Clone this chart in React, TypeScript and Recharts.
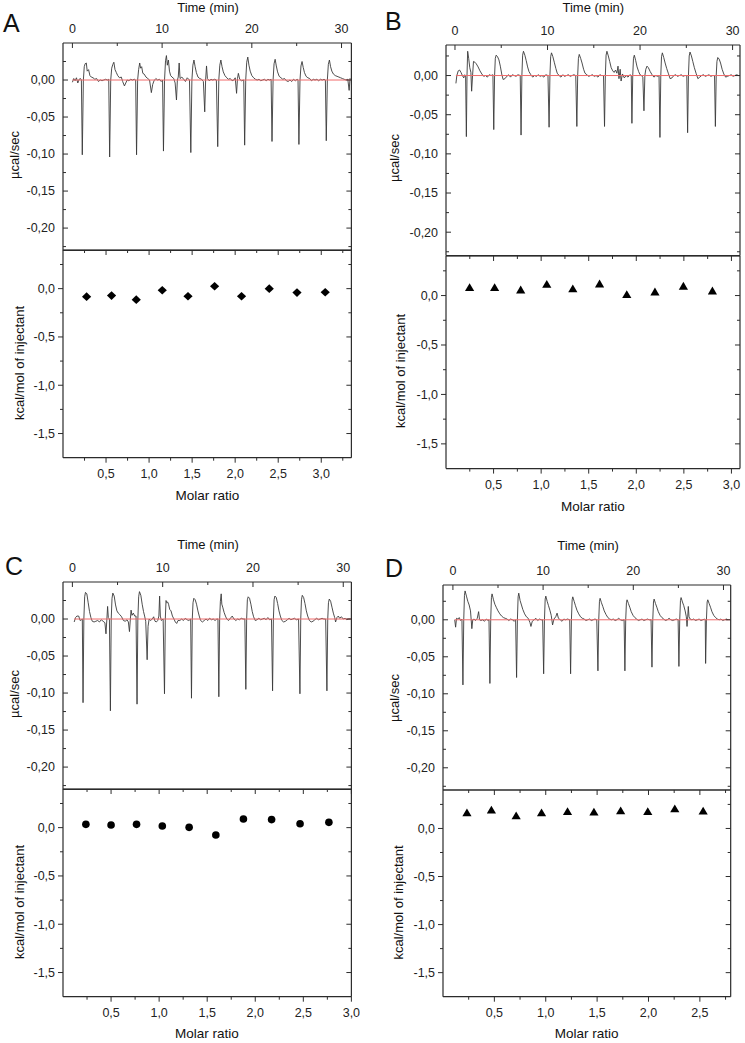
import React from 'react';
import { LineChart, Line, ScatterChart, Scatter, XAxis, YAxis, ReferenceLine } from 'recharts';

type Pt = [number, number];

// ---------- raw thermograms (time min, µcal/sec) ----------
const traceA: Pt[] = [
  [0.0,-0.003],[0.15,0.002],[0.3,-0.001],[0.45,0.003],[0.6,-0.004],[0.75,0.001],[0.9,0.002],[1.0,0.0],
  [1.1,-0.101],[1.22,0.0],[1.32,0.018],[1.42,0.022],[1.55,0.023],[1.65,0.012],[1.8,0.014],[1.95,0.006],[2.1,0.004],[2.3,0.003],[2.5,0.001],[2.7,0.002],[2.9,-0.002],[3.1,0.0],[3.3,-0.001],[3.5,0.0],[3.7,0.001],[3.9,0.0],[4.05,0.001],
  [4.15,-0.104],[4.27,0.0],[4.38,0.016],[4.5,0.021],[4.62,0.024],[4.75,0.014],[4.9,0.010],[5.05,0.006],[5.25,0.003],[5.45,0.004],[5.6,-0.002],[5.8,-0.008],[5.95,-0.004],[6.1,0.0],[6.3,-0.001],[6.5,0.001],[6.7,0.0],[6.9,0.001],[7.05,0.0],
  [7.15,-0.101],[7.27,0.0],[7.38,0.014],[7.5,0.023],[7.6,0.016],[7.72,0.018],[7.85,0.009],[8.0,0.008],[8.2,0.004],[8.4,0.002],[8.6,0.0],[8.8,-0.017],[8.95,-0.006],[9.1,-0.001],[9.3,0.002],[9.5,0.0],[9.7,0.001],[9.9,-0.002],[10.05,0.0],
  [10.15,-0.096],[10.27,0.0],[10.38,0.026],[10.48,0.033],[10.58,0.02],[10.7,0.027],[10.82,0.012],[10.95,0.006],[11.1,0.004],[11.3,0.002],[11.45,-0.004],[11.6,-0.027],[11.7,0.0],[11.8,0.004],[11.9,0.023],[12.0,0.002],[12.2,0.004],[12.4,0.001],[12.6,-0.002],[12.8,0.003],[13.05,0.0],
  [13.2,-0.098],[13.32,0.0],[13.43,0.020],[13.55,0.027],[13.68,0.018],[13.82,0.010],[14.0,0.004],[14.2,0.002],[14.4,0.001],[14.6,-0.002],[14.75,-0.043],[14.85,0.0],[14.95,0.019],[15.05,0.002],[15.25,-0.001],[15.45,0.001],[15.65,0.0],[15.85,0.001],[16.05,0.0],
  [16.2,-0.090],[16.32,0.0],[16.43,0.020],[16.55,0.027],[16.68,0.018],[16.82,0.011],[17.0,0.006],[17.2,0.003],[17.4,0.001],[17.6,0.002],[17.8,-0.001],[18.0,0.0],[18.15,0.003],[18.3,-0.018],[18.4,0.002],[18.5,0.009],[18.65,0.001],[18.85,-0.001],[19.1,0.0],
  [19.2,-0.088],[19.32,0.0],[19.43,0.024],[19.55,0.031],[19.68,0.02],[19.82,0.012],[20.0,0.006],[20.2,0.003],[20.4,0.001],[20.6,0.0],[20.8,0.001],[21.0,-0.001],[21.2,0.0],[21.4,0.001],[21.6,-0.001],[21.8,0.001],[22.0,0.0],[22.15,0.001],
  [22.25,-0.083],[22.37,0.0],[22.48,0.022],[22.6,0.028],[22.73,0.019],[22.87,0.011],[23.05,0.005],[23.25,0.003],[23.45,0.001],[23.65,0.002],[23.85,-0.001],[24.05,-0.002],[24.25,0.0],[24.45,-0.002],[24.65,0.001],[24.85,-0.001],[25.05,0.001],[25.15,0.0],
  [25.25,-0.087],[25.37,0.0],[25.48,0.019],[25.6,0.025],[25.73,0.017],[25.87,0.010],[26.05,0.005],[26.25,0.003],[26.45,0.002],[26.65,-0.001],[26.85,0.001],[27.05,0.0],[27.25,0.001],[27.45,-0.001],[27.65,0.001],[27.85,0.0],[28.05,0.001],[28.2,0.0],
  [28.3,-0.082],[28.42,0.0],[28.53,0.021],[28.65,0.027],[28.78,0.018],[28.92,0.012],[29.1,0.008],[29.3,0.006],[29.5,0.005],[29.7,0.004],[29.9,0.003],[30.1,0.002],[30.3,0.001],[30.5,0.0],[30.7,0.001],[30.85,-0.014],[30.95,0.002],[31.0,0.001],
];

const traceB: Pt[] = [
  [0.1,-0.010],[0.2,0.0],[0.35,0.006],[0.5,0.007],[0.65,0.004],[0.8,0.0],[0.95,-0.003],[1.05,0.001],[1.15,-0.002],
  [1.23,-0.078],[1.3,0.0],[1.37,0.031],[1.48,0.022],[1.6,0.010],[1.72,0.004],[1.8,-0.020],[1.9,0.0],[2.0,0.018],[2.15,0.017],[2.3,0.015],[2.5,0.011],[2.7,0.006],[2.9,0.002],[3.1,-0.001],[3.3,0.0],[3.5,-0.002],[3.7,0.001],[3.9,0.0],[4.1,0.001],
  [4.19,-0.069],[4.28,0.0],[4.36,0.022],[4.45,0.026],[4.6,0.024],[4.75,0.020],[4.9,0.012],[5.05,0.002],[5.2,-0.005],[5.4,-0.004],[5.6,-0.001],[5.8,0.001],[6.0,-0.002],[6.2,0.001],[6.4,0.0],[6.6,-0.001],[6.8,0.001],[7.05,0.0],
  [7.14,-0.076],[7.23,0.0],[7.31,0.026],[7.4,0.031],[7.55,0.026],[7.7,0.019],[7.85,0.011],[8.0,0.005],[8.2,0.001],[8.4,-0.002],[8.6,0.0],[8.8,-0.001],[9.0,0.001],[9.2,-0.001],[9.4,0.0],[9.6,-0.002],[9.8,0.001],[10.05,0.0],
  [10.17,-0.066],[10.26,0.0],[10.34,0.024],[10.43,0.029],[10.58,0.024],[10.73,0.017],[10.9,0.009],[11.05,0.003],[11.25,0.0],[11.45,-0.002],[11.65,0.001],[11.85,-0.001],[12.05,0.0],[12.25,0.001],[12.45,-0.001],[12.65,0.0],[12.85,0.001],[13.05,0.0],
  [13.17,-0.065],[13.26,0.0],[13.34,0.022],[13.43,0.027],[13.58,0.022],[13.73,0.016],[13.9,0.008],[14.05,0.003],[14.25,0.001],[14.45,-0.001],[14.65,0.0],[14.85,0.001],[15.05,-0.001],[15.25,0.0],[15.45,-0.002],[15.65,0.001],[15.85,0.0],[16.05,0.0],
  [16.16,-0.065],[16.25,0.0],[16.33,0.026],[16.42,0.031],[16.57,0.025],[16.72,0.018],[16.88,0.010],[17.05,0.006],[17.2,0.004],[17.35,0.007],[17.5,0.003],[17.62,0.012],[17.72,-0.004],[17.85,0.008],[17.95,-0.007],[18.1,0.002],[18.3,-0.003],[18.5,0.0],[18.7,-0.002],[18.9,0.001],[19.05,0.0],
  [19.12,-0.061],[19.21,0.0],[19.29,0.022],[19.38,0.026],[19.53,0.019],[19.68,0.011],[19.85,0.005],[20.0,0.001],[20.15,0.0],[20.3,-0.002],[20.42,-0.045],[20.52,0.0],[20.62,0.008],[20.75,0.012],[20.9,0.010],[21.1,0.005],[21.3,0.001],[21.5,-0.002],[21.7,0.0],[21.9,-0.001],[22.05,0.0],
  [22.15,-0.079],[22.24,0.0],[22.32,0.024],[22.41,0.029],[22.56,0.023],[22.71,0.016],[22.88,0.009],[23.05,0.003],[23.25,-0.004],[23.45,-0.003],[23.65,0.0],[23.85,0.001],[24.05,-0.001],[24.25,0.0],[24.45,0.001],[24.65,-0.001],[24.85,0.0],[25.05,0.0],
  [25.14,-0.073],[25.23,0.0],[25.31,0.025],[25.4,0.030],[25.55,0.025],[25.7,0.018],[25.87,0.010],[26.05,0.003],[26.25,-0.004],[26.45,-0.002],[26.65,0.0],[26.85,0.001],[27.05,-0.001],[27.25,0.0],[27.45,0.001],[27.65,-0.001],[27.85,0.0],[28.05,0.0],
  [28.14,-0.065],[28.23,0.0],[28.31,0.018],[28.4,0.023],[28.55,0.021],[28.7,0.016],[28.87,0.008],[29.05,0.002],[29.25,-0.002],[29.45,-0.001],[29.65,0.0],[29.85,0.001],[30.05,-0.001],[30.25,0.0],[30.45,0.001],[30.65,0.0],[30.8,0.0],
];

const traceC: Pt[] = [
  [0.2,-0.004],[0.35,0.002],[0.5,0.004],[0.7,0.004],[0.85,-0.002],[1.0,-0.001],[1.1,0.0],
  [1.18,-0.113],[1.27,0.0],[1.36,0.030],[1.45,0.036],[1.6,0.034],[1.75,0.022],[1.9,0.010],[2.05,0.002],[2.2,-0.003],[2.4,-0.004],[2.6,-0.003],[2.8,-0.002],[3.0,-0.004],[3.2,-0.001],[3.4,-0.003],[3.6,-0.005],[3.72,-0.020],[3.82,0.0],[3.9,0.017],[3.98,0.002],[4.1,0.0],
  [4.21,-0.124],[4.3,0.0],[4.39,0.028],[4.48,0.035],[4.63,0.031],[4.78,0.019],[4.93,0.011],[5.08,0.008],[5.25,0.006],[5.45,0.003],[5.65,-0.002],[5.85,-0.003],[6.05,-0.001],[6.2,-0.004],[6.32,-0.017],[6.42,0.0],[6.5,0.012],[6.6,0.005],[6.75,0.008],[6.9,0.004],[7.05,0.004],
  [7.16,-0.115],[7.25,0.0],[7.34,0.030],[7.43,0.037],[7.58,0.032],[7.73,0.020],[7.88,0.010],[8.0,0.004],[8.12,-0.003],[8.28,-0.055],[8.38,-0.010],[8.5,0.0],[8.65,-0.002],[8.85,0.0],[9.0,0.003],[9.15,-0.003],[9.3,-0.004],[9.45,-0.002],[9.58,0.004],[9.66,0.031],[9.74,0.004],[9.85,-0.002],[10.05,0.0],
  [10.2,-0.101],[10.29,0.0],[10.37,0.025],[10.45,0.022],[10.55,0.023],[10.65,0.020],[10.78,0.013],[10.92,0.011],[11.08,0.004],[11.25,0.0],[11.4,-0.004],[11.55,-0.006],[11.7,-0.002],[11.9,-0.002],[12.1,0.0],[12.3,-0.002],[12.5,0.001],[12.7,-0.001],[12.9,-0.002],[13.1,0.0],
  [13.19,-0.107],[13.28,0.0],[13.36,0.022],[13.45,0.028],[13.6,0.026],[13.75,0.020],[13.9,0.011],[14.05,0.004],[14.2,-0.002],[14.4,-0.004],[14.6,-0.002],[14.8,0.0],[15.0,-0.002],[15.2,0.001],[15.4,-0.001],[15.6,0.0],[15.8,-0.002],[16.0,0.0],[16.12,0.0],
  [16.22,-0.105],[16.31,0.0],[16.39,0.024],[16.48,0.034],[16.55,0.020],[16.65,0.016],[16.8,0.009],[16.95,0.004],[17.1,0.0],[17.3,-0.002],[17.5,0.001],[17.7,0.004],[17.9,0.0],[18.1,-0.002],[18.3,0.0],[18.5,-0.001],[18.7,0.001],[18.9,0.0],[19.1,0.0],
  [19.21,-0.095],[19.3,0.0],[19.38,0.026],[19.47,0.030],[19.62,0.028],[19.77,0.020],[19.92,0.010],[20.07,0.003],[20.25,-0.002],[20.45,-0.001],[20.65,0.001],[20.85,-0.001],[21.05,0.0],[21.25,0.001],[21.45,-0.001],[21.65,0.002],[21.85,-0.001],[22.05,0.0],
  [22.17,-0.097],[22.26,0.0],[22.34,0.026],[22.43,0.031],[22.58,0.029],[22.73,0.021],[22.88,0.011],[23.03,0.004],[23.2,-0.002],[23.4,-0.004],[23.6,-0.003],[23.8,-0.001],[24.0,0.001],[24.2,-0.001],[24.4,0.0],[24.6,0.001],[24.8,-0.001],[25.05,0.0],
  [25.2,-0.101],[25.29,0.0],[25.37,0.026],[25.46,0.032],[25.61,0.029],[25.76,0.021],[25.91,0.011],[26.06,0.004],[26.25,-0.002],[26.45,-0.004],[26.65,-0.003],[26.85,-0.001],[27.05,0.001],[27.25,-0.001],[27.45,0.0],[27.65,0.001],[27.85,0.0],[28.05,0.0],
  [28.19,-0.097],[28.28,0.0],[28.36,0.022],[28.45,0.027],[28.6,0.024],[28.75,0.016],[28.9,0.008],[29.05,0.002],[29.15,-0.004],[29.3,0.002],[29.45,0.004],[29.6,0.001],[29.8,0.003],[30.0,0.0],[30.2,0.001],[30.4,-0.001],[30.6,0.0],[30.8,0.0],
];

const traceD: Pt[] = [
  [0.2,0.0],[0.3,-0.010],[0.4,0.002],[0.55,0.001],[0.7,0.003],[0.85,-0.001],[1.0,0.001],
  [1.11,-0.088],[1.2,0.0],[1.28,0.033],[1.35,0.039],[1.5,0.032],[1.65,0.025],[1.8,0.020],[1.95,0.012],[2.1,-0.012],[2.2,0.0],[2.35,0.001],[2.5,-0.001],[2.7,0.002],[2.85,0.011],[2.95,0.0],[3.1,-0.001],[3.3,0.0],[3.5,-0.002],[3.7,0.001],[3.9,-0.001],[4.0,0.0],
  [4.1,-0.086],[4.19,0.0],[4.27,0.030],[4.34,0.035],[4.5,0.027],[4.65,0.021],[4.8,0.017],[5.0,0.012],[5.2,0.008],[5.4,0.005],[5.6,0.003],[5.8,0.002],[6.0,0.001],[6.2,-0.001],[6.4,0.001],[6.6,0.0],[6.8,-0.002],[6.95,0.0],
  [7.06,-0.078],[7.15,0.0],[7.23,0.031],[7.3,0.036],[7.45,0.026],[7.6,0.020],[7.75,0.014],[7.95,0.008],[8.15,0.004],[8.35,0.002],[8.55,-0.004],[8.65,-0.009],[8.8,-0.002],[9.0,0.0],[9.2,0.002],[9.4,-0.001],[9.6,0.001],[9.8,0.0],[9.95,0.0],
  [10.06,-0.073],[10.15,0.0],[10.23,0.028],[10.3,0.032],[10.45,0.025],[10.6,0.019],[10.75,0.013],[10.9,0.006],[11.05,-0.007],[11.2,0.001],[11.4,0.004],[11.55,0.009],[11.7,0.002],[11.9,0.0],[12.1,-0.002],[12.3,0.001],[12.5,0.0],[12.7,0.001],[12.95,0.0],
  [13.05,-0.073],[13.14,0.0],[13.22,0.027],[13.29,0.031],[13.44,0.025],[13.59,0.019],[13.75,0.013],[13.95,0.008],[14.15,0.004],[14.35,0.002],[14.55,0.001],[14.75,-0.001],[14.95,0.0],[15.15,0.001],[15.35,-0.001],[15.55,0.0],[15.75,0.001],[15.95,0.0],
  [16.08,-0.069],[16.17,0.0],[16.25,0.025],[16.32,0.029],[16.47,0.023],[16.62,0.018],[16.78,0.012],[16.98,0.007],[17.18,0.003],[17.38,0.001],[17.58,0.0],[17.78,0.001],[17.98,-0.001],[18.18,0.0],[18.38,0.002],[18.58,0.0],[18.78,-0.001],[18.98,0.0],
  [19.07,-0.069],[19.16,0.0],[19.24,0.023],[19.31,0.027],[19.46,0.022],[19.61,0.017],[19.77,0.011],[19.97,0.006],[20.17,0.003],[20.37,0.001],[20.57,-0.001],[20.77,0.0],[20.97,0.001],[21.17,-0.001],[21.37,0.0],[21.57,0.001],[21.77,0.0],[21.97,0.0],
  [22.07,-0.064],[22.16,0.0],[22.24,0.024],[22.31,0.028],[22.46,0.022],[22.61,0.017],[22.77,0.011],[22.97,0.006],[23.17,0.003],[23.37,0.001],[23.57,-0.001],[23.77,0.0],[23.97,0.002],[24.17,0.0],[24.37,-0.001],[24.57,0.0],[24.77,0.001],[24.97,0.0],
  [25.06,-0.063],[25.15,0.0],[25.23,0.026],[25.3,0.030],[25.45,0.024],[25.6,0.019],[25.75,0.012],[25.88,0.004],[25.96,-0.009],[26.04,0.005],[26.1,0.018],[26.18,0.004],[26.3,0.001],[26.5,0.0],[26.7,0.001],[26.9,-0.001],[27.1,0.0],[27.3,0.001],[27.5,-0.001],[27.7,0.0],[27.9,0.001],[27.98,0.0],
  [28.02,-0.059],[28.11,0.0],[28.19,0.024],[28.26,0.027],[28.41,0.022],[28.56,0.017],[28.72,0.011],[28.92,0.006],[29.12,0.003],[29.32,0.001],[29.52,0.0],[29.72,0.001],[29.92,-0.001],[30.12,0.0],[30.32,0.001],[30.5,0.0],
];

// ---------- integrated heats (molar ratio, kcal/mol of injectant) ----------
const ratioA = [0.274, 0.564, 0.851, 1.153, 1.452, 1.761, 2.074, 2.396, 2.718, 3.046];
const heatA = [-0.083, -0.072, -0.114, -0.017, -0.079, 0.024, -0.079, 0.0, -0.041, -0.038];
const ratioB = [0.248, 0.511, 0.785, 1.059, 1.333, 1.614, 1.9, 2.196, 2.495, 2.8];
const heatB = [0.081, 0.081, 0.057, 0.115, 0.068, 0.118, 0.01, 0.037, 0.095, 0.047];
const ratioC = [0.238, 0.5, 0.765, 1.033, 1.312, 1.59, 1.877, 2.17, 2.466, 2.766];
const heatC = [0.034, 0.028, 0.034, 0.017, 0.003, -0.076, 0.09, 0.083, 0.041, 0.055];
const ratioD = [0.233, 0.471, 0.712, 0.959, 1.212, 1.469, 1.729, 1.993, 2.256, 2.532];
const heatD = [0.163, 0.191, 0.132, 0.163, 0.177, 0.17, 0.184, 0.177, 0.205, 0.181];

// ---------- ticks ----------
const timeTicks = [0, 5, 10, 15, 20, 25, 30];
const timeLabels = [0, 10, 20, 30];
const powerTicks = [0.025, 0, -0.025, -0.05, -0.075, -0.1, -0.125, -0.15, -0.175, -0.2, -0.225];
const powerLabels = [0, -0.05, -0.1, -0.15, -0.2];
const heatTicks = [0.25, 0, -0.25, -0.5, -0.75, -1, -1.25, -1.5];
const heatLabels = [0, -0.5, -1, -1.5];
const molarTicksA = [0.25, 0.5, 0.75, 1, 1.25, 1.5, 1.75, 2, 2.25, 2.5, 2.75, 3, 3.25];
const molarTicksB = [0.25, 0.5, 0.75, 1, 1.25, 1.5, 1.75, 2, 2.25, 2.5, 2.75, 3];
const molarTicksC = [0.25, 0.5, 0.75, 1, 1.25, 1.5, 1.75, 2, 2.25, 2.5, 2.75, 3];
const molarTicksD = [0.25, 0.5, 0.75, 1, 1.25, 1.5, 1.75, 2, 2.25, 2.5, 2.75];
const molarLabels = [0.5, 1, 1.5, 2, 2.5, 3];

const FONT = '"Liberation Sans", Arial, Helvetica, sans-serif';
const FRAME = '#2b2b2b';
const TICK_FS = 12.5;

const has = (list: number[], v: number) => list.some((l) => Math.abs(l - v) < 1e-9);
const fmt = (d: number) => (v: number) => v.toFixed(d).replace('.', ',').replace(/^-(0[,0]*)$/, '$1');

type Side = 'top' | 'bottom' | 'left' | 'right';

const mkTick = (side: Side, majors: number[], showLabels: boolean, inside: boolean, format: (v: number) => string) =>
  (props: any) => {
    const { x, y, payload } = props;
    const v = payload.value as number;
    const major = has(majors, v);
    const len = major ? 5 : 3;
    let x2 = x, y2 = y;
    if (side === 'top') y2 = inside ? y + len : y - len;
    if (side === 'bottom') y2 = inside ? y - len : y + len;
    if (side === 'left') x2 = inside ? x + len : x - len;
    if (side === 'right') x2 = inside ? x - len : x + len;
    let label: React.ReactNode = null;
    if (showLabels && major) {
      if (side === 'top') label = <text x={x} y={y - 10} textAnchor="middle" fontSize={TICK_FS} fontFamily={FONT} fill="#222">{format(v)}</text>;
      if (side === 'bottom') label = <text x={x} y={y + 20} textAnchor="middle" fontSize={TICK_FS} fontFamily={FONT} fill="#222">{format(v)}</text>;
      if (side === 'left') label = <text x={x - 8} y={y + 4.4} textAnchor="end" fontSize={TICK_FS} fontFamily={FONT} fill="#222">{format(v)}</text>;
    }
    return (
      <g>
        <line x1={x} y1={y} x2={x2} y2={y2} stroke={FRAME} strokeWidth={1} />
        {label}
      </g>
    );
  };

const diamond = (p: any) => (
  <polygon points={`${p.cx},${p.cy - 4.3} ${p.cx + 4.6},${p.cy} ${p.cx},${p.cy + 4.3} ${p.cx - 4.6},${p.cy}`} fill="#000" />
);
const triangle = (p: any) => (
  <polygon points={`${p.cx},${p.cy - 4.3} ${p.cx + 4.6},${p.cy + 3.5} ${p.cx - 4.6},${p.cy + 3.5}`} fill="#000" />
);
const dotShape = (p: any) => <circle cx={p.cx} cy={p.cy} r={3.8} fill="#000" />;

interface PanelCfg {
  letter: string;
  letterPos: [number, number];
  fl: number; fr: number; ft: number; fs: number; fb: number;
  tDomain: [number, number];
  pTop: number;
  mDomain: [number, number];
  mTicks: number[];
  trace: Pt[];
  base: [number, number];
  ratio: number[];
  heat: number[];
  shape: (p: any) => React.ReactElement;
  timeTitle: [number, number];
  ucal: [number, number];
  kcal: [number, number];
  molar: [number, number];
}

const panels: PanelCfg[] = [
  { letter: 'A', letterPos: [3, 32], fl: 63.3, fr: 351.7, ft: 42.7, fs: 250, fb: 457.7, tDomain: [-1.05, 31.1], pTop: 0.05,
    mDomain: [0, 3.35], mTicks: molarTicksA, trace: traceA, base: [0, 31], ratio: ratioA, heat: heatA, shape: diamond,
    timeTitle: [208, 12], ucal: [14.7, 155], kcal: [19.5, 363], molar: [207.5, 500] },
  { letter: 'B', letterPos: [385, 30], fl: 446, fr: 740, ft: 45, fs: 255.7, fb: 468.3, tDomain: [-0.97, 30.8], pTop: 0.039,
    mDomain: [0, 3.09], mTicks: molarTicksB, trace: traceB, base: [0.1, 30.8], ratio: ratioB, heat: heatB, shape: triangle,
    timeTitle: [593.3, 12], ucal: [394, 158], kcal: [400, 371], molar: [592.8, 511] },
  { letter: 'C', letterPos: [5, 575], fl: 63.3, fr: 351.7, ft: 581.7, fs: 789, fb: 996.7, tDomain: [-1.04, 30.9], pTop: 0.05,
    mDomain: [0, 3.0], mTicks: molarTicksC, trace: traceC, base: [0.2, 30.9], ratio: ratioC, heat: heatC, shape: dotShape,
    timeTitle: [208, 549], ucal: [14.7, 694], kcal: [19.5, 902], molar: [207, 1038] },
  { letter: 'D', letterPos: [385, 576.7], fl: 443.3, fr: 731, ft: 585, fs: 790, fb: 996.7, tDomain: [-1.1, 30.8], pTop: 0.047,
    mDomain: [0, 2.8], mTicks: molarTicksD, trace: traceD, base: [0.2, 30.8], ratio: ratioD, heat: heatD, shape: triangle,
    timeTitle: [588, 550], ucal: [394, 698], kcal: [398, 902.5], molar: [586.7, 1038] },
];

const ML = 62;
const MR = 8;
const MT = 36;
const MB = 28;
const AX = 1; // axis box thickness (must be > 0 for Recharts to draw it)

const Panel: React.FC<{ c: PanelCfg }> = ({ c }) => {
  const traceData = c.trace.map(([t, v]) => ({ t, v }));
  const pts = c.ratio.map((x, i) => ({ x, y: c.heat[i] }));
  const pTicks = powerTicks.filter((v) => v <= c.pTop);
  const wTop = c.fr - c.fl + ML + MR;
  const axisLine = { stroke: FRAME, strokeWidth: 1.2 };
  return (
    <>
      <div style={{ position: 'absolute', left: c.fl - ML, top: c.ft - MT }}>
        <LineChart width={wTop} height={c.fs - c.ft + MT + 2} data={traceData}
          margin={{ left: ML - AX, right: MR - AX, top: MT - AX, bottom: 2 - AX }}>
          <XAxis xAxisId="t" dataKey="t" type="number" orientation="top" domain={c.tDomain} allowDataOverflow
            ticks={timeTicks} interval={0} height={AX} tickLine={false} tickSize={0} tickMargin={0}
            axisLine={axisLine} tick={mkTick('top', timeLabels, true, true, fmt(0))} />
          <XAxis xAxisId="tb" dataKey="t" type="number" orientation="bottom" domain={c.tDomain} allowDataOverflow
            ticks={timeTicks} interval={0} height={AX} tickLine={false} tickSize={0} tickMargin={0}
            axisLine={axisLine} tick={() => <g />} />
          <YAxis yAxisId="l" type="number" domain={[-0.23, c.pTop]} allowDataOverflow ticks={pTicks} interval={0}
            width={AX} tickLine={false} tickSize={0} tickMargin={0} axisLine={axisLine}
            tick={mkTick('left', powerLabels, true, true, fmt(2))} />
          <YAxis yAxisId="r" orientation="right" type="number" domain={[-0.23, c.pTop]} allowDataOverflow ticks={pTicks}
            interval={0} width={AX} tickLine={false} tickSize={0} tickMargin={0} axisLine={axisLine}
            tick={mkTick('right', powerLabels, false, true, fmt(2))} />
          <Line xAxisId="t" yAxisId="l" dataKey="v" type="linear" stroke="#3a3a3a" strokeWidth={0.9} dot={false}
            isAnimationActive={false} />
          <ReferenceLine xAxisId="t" yAxisId="l" segment={[{ x: c.base[0], y: 0 }, { x: c.base[1], y: 0 }]}
            stroke="#f06a6a" strokeWidth={1} />
        </LineChart>
      </div>
      <div style={{ position: 'absolute', left: c.fl - ML, top: c.fs - 2 }}>
        <ScatterChart width={wTop} height={c.fb - c.fs + 2 + MB}
          margin={{ left: ML - AX, right: MR - AX, top: 2 - AX, bottom: MB - AX }}>
          <XAxis xAxisId="m" dataKey="x" type="number" orientation="bottom" domain={c.mDomain} allowDataOverflow
            ticks={c.mTicks} interval={0} height={AX} tickLine={false} tickSize={0} tickMargin={0} axisLine={axisLine}
            tick={mkTick('bottom', molarLabels, true, false, fmt(1))} />
          <XAxis xAxisId="mt" dataKey="x" type="number" orientation="top" domain={c.mDomain} allowDataOverflow
            ticks={c.mTicks} interval={0} height={AX} tickLine={false} tickSize={0} tickMargin={0} axisLine={axisLine}
            tick={mkTick('top', molarLabels, false, true, fmt(1))} />
          <YAxis yAxisId="l" dataKey="y" type="number" domain={[-1.75, 0.4]} allowDataOverflow ticks={heatTicks}
            interval={0} width={AX} tickLine={false} tickSize={0} tickMargin={0} axisLine={axisLine}
            tick={mkTick('left', heatLabels, true, false, fmt(1))} />
          <YAxis yAxisId="r" dataKey="y" orientation="right" type="number" domain={[-1.75, 0.4]} allowDataOverflow
            ticks={heatTicks} interval={0} width={AX} tickLine={false} tickSize={0} tickMargin={0} axisLine={axisLine}
            tick={mkTick('right', heatLabels, false, true, fmt(1))} />
          <Scatter xAxisId="m" yAxisId="l" data={pts} shape={c.shape} isAnimationActive={false} />
        </ScatterChart>
      </div>
    </>
  );
};

const Titles: React.FC = () => (
  <svg width={745} height={1043} style={{ position: 'absolute', left: 0, top: 0, pointerEvents: 'none' }}>
    {panels.map((c) => (
      <g key={c.letter} fontFamily={FONT} fill="#111">
        <text x={c.letterPos[0]} y={c.letterPos[1]} fontSize={25}>{c.letter}</text>
        <text x={c.timeTitle[0]} y={c.timeTitle[1]} fontSize={13} textAnchor="middle">Time (min)</text>
        <text x={c.ucal[0]} y={c.ucal[1]} fontSize={13} textAnchor="middle" dominantBaseline="central"
          transform={`rotate(-90 ${c.ucal[0]} ${c.ucal[1]})`}>µcal/sec</text>
        <text x={c.kcal[0]} y={c.kcal[1]} fontSize={13} textAnchor="middle" dominantBaseline="central"
          transform={`rotate(-90 ${c.kcal[0]} ${c.kcal[1]})`}>kcal/mol of injectant</text>
        <text x={c.molar[0]} y={c.molar[1]} fontSize={13.5} textAnchor="middle">Molar ratio</text>
      </g>
    ))}
  </svg>
);

export default function App() {
  return (
    <div style={{ position: 'absolute', left: 0, top: 0, width: 745, height: 1043, background: '#fff', overflow: 'hidden' }}>
      {panels.map((c) => (
        <Panel key={c.letter} c={c} />
      ))}
      <Titles />
    </div>
  );
}
